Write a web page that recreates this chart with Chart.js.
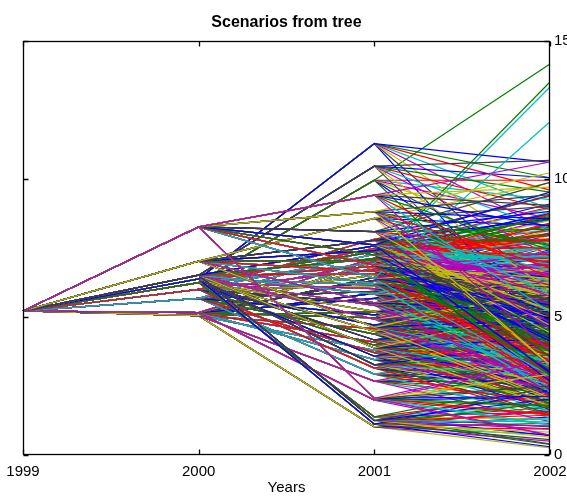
<!DOCTYPE html>
<html>
<head>
<meta charset="utf-8">
<style>
  html, body { margin: 0; padding: 0; background: #fff; }
  canvas { display: block; }
</style>
<script src="https://cdn.jsdelivr.net/npm/chart.js@4/dist/chart.umd.min.js"></script>
</head>
<body>
<canvas id="chart" width="567" height="497"></canvas>
<script>
// Time stages of the scenario tree
const years = ['1999', '2000', '2001', '2002'];
const yTicks = [0, 5, 10, 15];

// Root value in 1999
const rootValue = 5.22;

// Nodes in 2000 (children of the root)
const nodes2000 = [8.27, 7.03, 6.52, 6.38, 6.25, 6.00, 5.68, 5.16, 5.05];

// Nodes in 2001, one row per 2000 node
const nodes2001 = [
  [9.42, 8.82, 8.10, 7.62, 7.25, 6.88, 6.40, 2.05],
  [8.58, 7.78, 7.41, 7.05, 6.66, 6.21, 5.52, 4.63],
  [10.47, 7.58, 7.12, 6.57, 5.83, 4.92, 3.88, 1.25],
  [11.29, 7.36, 6.84, 6.18, 5.42, 4.48, 3.27, 1.12],
  [9.96, 7.49, 6.95, 6.03, 5.21, 4.17, 3.58, 1.38],
  [7.82, 7.27, 6.73, 6.12, 5.49, 4.71, 3.98, 3.15],
  [7.46, 7.01, 6.52, 5.93, 5.08, 4.38, 3.71, 2.93],
  [7.14, 6.79, 6.33, 5.68, 4.97, 4.09, 3.46, 1.99],
  [6.97, 6.44, 5.86, 5.19, 4.58, 3.79, 2.68, 1.02]
];

// Leaves in 2002, grouped by 2000 branch, one row per 2001 node
const leavesBranch1 = [
  [10.62, 9.71, 9.05, 8.29, 7.44, 6.41, 5.18, 3.77],
  [10.23, 9.44, 8.56, 7.59, 6.79, 5.82, 4.59, 3.26],
  [9.88, 8.83, 8.18, 7.45, 6.72, 5.75, 4.70, 3.56],
  [9.53, 8.53, 7.77, 6.93, 6.17, 5.26, 4.27, 2.97],
  [8.63, 7.83, 7.18, 6.53, 5.80, 5.08, 4.13, 2.88],
  [8.74, 7.84, 7.16, 6.40, 5.64, 4.95, 4.06, 2.96],
  [12.08, 7.36, 6.72, 6.08, 5.44, 4.74, 3.90, 2.88],
  [3.45, 2.92, 2.50, 2.13, 1.80, 1.47, 1.10, 0.72]
];
const leavesBranch2 = [
  [9.87, 9.01, 8.32, 7.64, 6.86, 5.92, 4.80, 3.26],
  [9.41, 8.56, 7.78, 7.00, 6.30, 5.45, 4.43, 3.27],
  [8.74, 8.00, 7.26, 6.52, 5.85, 4.96, 3.93, 2.67],
  [13.52, 8.04, 7.26, 6.56, 5.85, 5.08, 4.23, 3.10],
  [8.39, 7.53, 6.79, 6.13, 5.46, 4.73, 3.80, 2.66],
  [7.64, 6.89, 6.27, 5.65, 4.97, 4.28, 3.42, 2.30],
  [7.07, 6.40, 5.80, 5.19, 4.64, 4.03, 3.31, 2.37],
  [6.02, 5.42, 4.91, 4.40, 3.94, 3.43, 2.82, 2.08]
];
const leavesBranch3 = [
  [10.68, 10.05, 9.53, 8.90, 8.17, 7.22, 5.97, 4.40],
  [9.10, 8.26, 7.50, 6.75, 6.06, 5.23, 4.24, 3.03],
  [8.69, 7.83, 7.19, 6.48, 5.77, 4.98, 4.13, 2.92],
  [8.21, 7.36, 6.70, 6.04, 5.39, 4.66, 3.74, 2.56],
  [7.40, 6.65, 6.00, 5.42, 4.84, 4.20, 3.44, 2.45],
  [6.45, 5.76, 5.22, 4.67, 4.18, 3.64, 3.00, 2.16],
  [5.28, 4.69, 4.23, 3.80, 3.38, 2.91, 2.41, 1.78],
  [2.44, 2.03, 1.73, 1.44, 1.20, 0.95, 0.65, 0.38]
];
const leavesBranch4 = [
  [10.61, 10.05, 9.60, 8.92, 8.13, 7.11, 5.87, 4.29],
  [8.76, 7.95, 7.29, 6.55, 5.89, 5.08, 4.12, 2.94],
  [8.41, 7.59, 6.91, 6.22, 5.54, 4.79, 3.90, 2.80],
  [7.79, 6.98, 6.37, 5.69, 5.07, 4.39, 3.58, 2.60],
  [6.99, 6.23, 5.64, 5.09, 4.55, 3.96, 3.20, 2.33],
  [5.96, 5.33, 4.79, 4.30, 3.85, 3.32, 2.73, 2.02],
  [4.58, 4.05, 3.63, 3.24, 2.88, 2.49, 2.03, 1.50],
  [2.35, 1.90, 1.58, 1.31, 1.06, 0.83, 0.56, 0.30]
];
const leavesBranch5 = [
  [14.17, 9.96, 9.26, 8.57, 7.77, 6.77, 5.58, 3.98],
  [8.99, 8.16, 7.49, 6.74, 5.99, 5.17, 4.19, 3.00],
  [13.34, 7.78, 7.09, 6.39, 5.70, 4.93, 4.03, 2.92],
  [7.60, 6.87, 6.21, 5.61, 5.00, 4.34, 3.56, 2.53],
  [6.72, 6.04, 5.47, 4.90, 4.38, 3.80, 3.13, 2.29],
  [5.59, 4.96, 4.50, 4.04, 3.59, 3.13, 2.54, 1.88],
  [4.90, 4.37, 3.94, 3.51, 3.11, 2.69, 2.22, 1.65],
  [2.62, 2.18, 1.85, 1.56, 1.30, 1.02, 0.70, 0.40]
];
const leavesBranch6 = [
  [9.38, 8.52, 7.82, 7.04, 6.26, 5.40, 4.38, 3.13],
  [8.80, 8.00, 7.27, 6.54, 5.89, 5.09, 4.14, 2.98],
  [8.35, 7.54, 6.86, 6.19, 5.52, 4.78, 3.90, 2.76],
  [7.71, 6.92, 6.30, 5.69, 5.08, 4.41, 3.55, 2.57],
  [7.03, 6.31, 5.71, 5.16, 4.61, 4.01, 3.29, 2.36],
  [6.17, 5.51, 4.99, 4.47, 4.00, 3.49, 2.87, 2.07],
  [5.37, 4.78, 4.30, 3.86, 3.42, 2.99, 2.43, 1.79],
  [4.41, 3.91, 3.50, 3.12, 2.77, 2.39, 1.95, 1.45]
];
const leavesBranch7 = [
  [8.95, 8.13, 7.46, 6.71, 5.97, 5.15, 4.18, 2.98],
  [8.55, 7.78, 7.08, 6.38, 5.68, 4.91, 3.99, 2.87],
  [8.15, 7.30, 6.65, 6.00, 5.35, 4.63, 3.78, 2.67],
  [7.53, 6.76, 6.11, 5.51, 4.92, 4.27, 3.50, 2.49],
  [6.60, 5.94, 5.38, 4.83, 4.27, 3.71, 3.05, 2.24],
  [5.83, 5.21, 4.69, 4.20, 3.77, 3.24, 2.67, 1.97],
  [5.08, 4.53, 4.08, 3.64, 3.23, 2.78, 2.30, 1.71],
  [4.13, 3.66, 3.25, 2.90, 2.58, 2.23, 1.82, 1.35]
];
const leavesBranch8 = [
  [8.64, 7.78, 7.14, 6.43, 5.71, 4.93, 4.00, 2.86],
  [8.35, 7.54, 6.86, 6.18, 5.50, 4.75, 3.87, 2.72],
  [7.98, 7.15, 6.52, 5.82, 5.19, 4.49, 3.67, 2.66],
  [7.27, 6.53, 5.91, 5.34, 4.77, 4.15, 3.41, 2.44],
  [6.51, 5.81, 5.27, 4.72, 4.22, 3.68, 3.03, 2.19],
  [5.56, 4.95, 4.42, 3.97, 3.52, 3.07, 2.49, 1.84],
  [4.84, 4.29, 3.84, 3.43, 3.04, 2.63, 2.15, 1.59],
  [3.38, 2.85, 2.45, 2.09, 1.77, 1.45, 1.08, 0.70]
];
const leavesBranch9 = [
  [8.50, 7.74, 7.04, 6.34, 5.65, 4.88, 3.97, 2.86],
  [8.05, 7.21, 6.57, 5.93, 5.28, 4.57, 3.73, 2.64],
  [7.44, 6.68, 6.04, 5.45, 4.86, 4.22, 3.46, 2.46],
  [6.70, 6.02, 5.45, 4.88, 4.36, 3.79, 3.11, 2.28],
  [6.05, 5.40, 4.86, 4.35, 3.89, 3.39, 2.79, 2.02],
  [5.19, 4.62, 4.17, 3.71, 3.30, 2.84, 2.35, 1.74],
  [3.86, 3.40, 3.00, 2.65, 2.33, 1.98, 1.61, 1.21],
  [2.04, 1.65, 1.37, 1.15, 0.94, 0.74, 0.50, 0.26]
];
const leaves2002 = [leavesBranch1, leavesBranch2, leavesBranch3, leavesBranch4,
  leavesBranch5, leavesBranch6, leavesBranch7, leavesBranch8, leavesBranch9];

// Classic line colour order, cycled per scenario (starting at magenta)
const lineColors = ['#bf00bf', '#bfbf00', '#404040', '#0000ff', '#008000', '#ff0000', '#00bfbf'];

// Every root-to-leaf path becomes one scenario line
const scenarios = [];
nodes2000.forEach((v2000, i) => {
  nodes2001[i].forEach((v2001, j) => {
    leaves2002[i][j].forEach(v2002 => {
      scenarios.push([rootValue, v2000, v2001, v2002]);
    });
  });
});

const datasets = scenarios.map((path, k) => ({
  data: path,
  borderColor: lineColors[k % lineColors.length],
  borderWidth: 1.2,
  pointRadius: 0,
  pointHoverRadius: 0,
  fill: false,
  tension: 0
}));

const FONT = "'Liberation Sans', Arial, Helvetica, sans-serif";

// Box around the plot with inward tick marks on all four sides
const framePlugin = {
  id: 'frame',
  afterDatasetsDraw(chart) {
    const { ctx, chartArea: a, scales } = chart;
    const x = scales.x, y = scales.y;
    const L = Math.round(a.left) + 0.5, R = Math.round(a.right) - 0.5;
    const T = Math.round(a.top) + 0.5, B = Math.round(a.bottom) - 0.5;
    const len = 5;
    ctx.save();
    ctx.strokeStyle = '#000';
    ctx.lineWidth = 1.3;
    ctx.strokeRect(L, T, R - L, B - T);
    ctx.beginPath();
    x.ticks.forEach((t, i) => {
      const px = Math.round(x.getPixelForTick(i)) + 0.5;
      ctx.moveTo(px, B); ctx.lineTo(px, B - len);
      ctx.moveTo(px, T); ctx.lineTo(px, T + len);
    });
    y.ticks.forEach((t, i) => {
      const py = Math.round(y.getPixelForTick(i)) + 0.5;
      ctx.moveTo(L, py); ctx.lineTo(L + len, py);
      ctx.moveTo(R, py); ctx.lineTo(R - len, py);
    });
    ctx.stroke();
    ctx.restore();
  }
};

new Chart(document.getElementById('chart'), {
  type: 'line',
  data: { labels: years, datasets },
  options: {
    responsive: false,
    devicePixelRatio: 1,
    animation: false,
    events: [],
    layout: { padding: { left: 23, right: 0, top: 0, bottom: 0 } },
    plugins: {
      legend: { display: false },
      tooltip: { enabled: false },
      title: {
        display: true,
        text: 'Scenarios from tree',
        fullSize: false,
        color: '#000',
        font: { family: FONT, size: 16, weight: 'bold' },
        padding: { top: 13, bottom: 9 }
      }
    },
    scales: {
      x: {
        type: 'category',
        offset: false,
        grid: { display: false, drawTicks: false },
        border: { display: false },
        ticks: {
          color: '#000',
          font: { family: FONT, size: 15 },
          padding: 8,
          maxRotation: 0,
          autoSkip: false
        },
        title: {
          display: true,
          text: 'Years',
          color: '#000',
          font: { family: FONT, size: 15 },
          padding: { top: 1, bottom: 0 }
        },
        afterFit(scale) {
          scale.height = 42;
          scale.paddingLeft = 0;
          scale.paddingRight = 0;
        }
      },
      y: {
        position: 'right',
        min: 0,
        max: 15,
        grid: { display: false, drawTicks: false },
        border: { display: false },
        afterBuildTicks(scale) { scale.ticks = yTicks.map(v => ({ value: v })); },
        ticks: {
          color: '#000',
          font: { family: FONT, size: 15 },
          padding: 4
        },
        afterFit(scale) {
          scale.width = 17;
          scale.paddingTop = 0;
          scale.paddingBottom = 0;
        }
      }
    }
  },
  plugins: [framePlugin]
});
</script>
</body>
</html>
